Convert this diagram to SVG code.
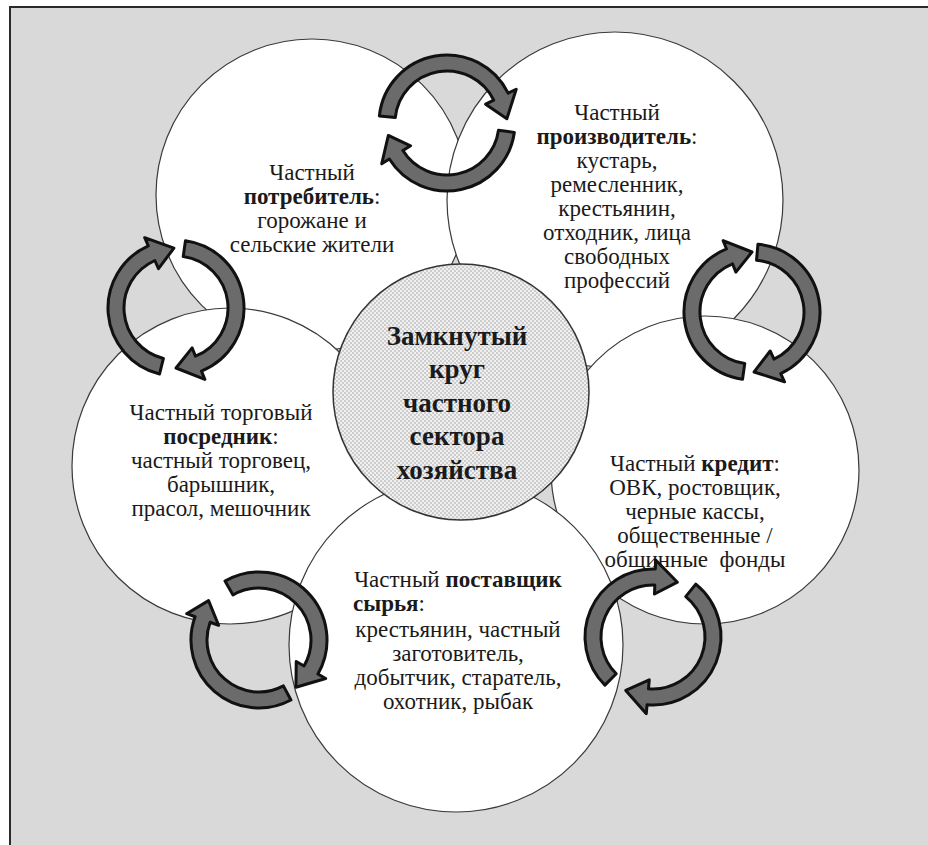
<svg xmlns="http://www.w3.org/2000/svg" width="928" height="845" viewBox="0 0 928 845">
<defs>
<pattern id="dots" width="4" height="4" patternUnits="userSpaceOnUse">
<rect width="4" height="4" fill="#f0f0f0"/>
<circle cx="1" cy="1" r="0.75" fill="#9a9a9a"/>
<circle cx="3" cy="3" r="0.75" fill="#9a9a9a"/>
</pattern>
</defs>
<style>
.c{fill:#ffffff;stroke:#3a3a3a;stroke-width:1.2}
.t{font-family:"Liberation Serif","Times New Roman",serif;font-size:23px;fill:#1a1a1a;text-anchor:middle}
.b{font-weight:bold}
.ct{font-family:"Liberation Serif","Times New Roman",serif;font-size:27px;font-weight:bold;fill:#1a1a1a;text-anchor:middle}
.ar{fill:#6b6b6b;stroke:#111111;stroke-width:3;stroke-linejoin:round}
</style>
<rect x="0" y="0" width="928" height="845" fill="#ffffff"/>
<rect x="10" y="7" width="940" height="860" fill="#d9d9d9" stroke="#2a2a2a" stroke-width="2"/>

<g id="consumer">
<circle class="c" cx="312" cy="195" r="156"/>
<text class="t" x="312" y="180">Частный</text>
<text class="t" x="312" y="204"><tspan class="b">потребитель</tspan>:</text>
<text class="t" x="312" y="228">горожане и</text>
<text class="t" x="312" y="252">сельские жители</text>
</g>

<g id="producer">
<circle class="c" cx="615" cy="200" r="168"/>
<text class="t" x="617" y="120">Частный</text>
<text class="t" x="617" y="144"><tspan class="b">производитель</tspan>:</text>
<text class="t" x="617" y="168">кустарь,</text>
<text class="t" x="617" y="192">ремесленник,</text>
<text class="t" x="617" y="216">крестьянин,</text>
<text class="t" x="617" y="240">отходник, лица</text>
<text class="t" x="617" y="264">свободных</text>
<text class="t" x="617" y="288">профессий</text>
</g>

<g id="credit">
<circle class="c" cx="705" cy="470" r="154"/>
<text class="t" x="695" y="471">Частный <tspan class="b">кредит</tspan>:</text>
<text class="t" x="695" y="495">ОВК, ростовщик,</text>
<text class="t" x="695" y="519">черные кассы,</text>
<text class="t" x="695" y="543">общественные /</text>
<text class="t" x="695" y="567">общинные&#160; фонды</text>
</g>

<g id="intermediary">
<circle class="c" cx="230" cy="466" r="158"/>
<text class="t" x="221" y="420">Частный торговый</text>
<text class="t" x="221" y="444"><tspan class="b">посредник</tspan>:</text>
<text class="t" x="221" y="468">частный торговец,</text>
<text class="t" x="221" y="492">барышник,</text>
<text class="t" x="221" y="516">прасол, мешочник</text>
</g>

<g id="supplier">
<circle class="c" cx="456" cy="645" r="167"/>
<text class="t" x="458" y="587">Частный <tspan class="b">поставщик</tspan></text>
<text class="t" x="353" y="611" style="text-anchor:start"><tspan class="b">сырья</tspan>:</text>
<text class="t" x="458" y="637">крестьянин, частный</text>
<text class="t" x="458" y="661">заготовитель,</text>
<text class="t" x="458" y="685">добытчик, старатель,</text>
<text class="t" x="458" y="709">охотник, рыбак</text>
</g>

<g id="center">
<circle cx="461" cy="392" r="128" fill="url(#dots)" stroke="#333333" stroke-width="1.5"/>
<text class="ct" x="457" y="345">Замкнутый</text>
<text class="ct" x="457" y="378">круг</text>
<text class="ct" x="457" y="412">частного</text>
<text class="ct" x="457" y="445">сектора</text>
<text class="ct" x="457" y="479">хозяйства</text>
</g>

<g id="connectors">
<path class="ar" d="M379.37,115.89 A68,68 0 0 1 508.12,93.19 L516.21,89.24 L506.86,118.81 L485.65,104.15 L493.74,100.20 A52,52 0 0 0 395.29,117.57 Z"/>
<path class="ar" d="M514.34,132.47 A68,68 0 0 1 389.34,159.03 L381.70,163.80 L388.31,135.47 L410.54,145.79 L402.90,150.55 A52,52 0 0 0 498.50,130.24 Z"/>
<path class="ar" d="M742.53,379.34 A68,68 0 0 1 726.53,248.95 L723.16,240.61 L752,252 L735.89,272.13 L732.52,263.79 A52,52 0 0 0 744.76,363.50 Z"/>
<path class="ar" d="M757.93,244.26 A68,68 0 0 1 780.74,373.63 L784.54,381.79 L754.09,371.96 L770.17,350.97 L773.98,359.13 A52,52 0 0 0 756.53,260.20 Z"/>
<path class="ar" d="M159.55,373.98 A68,68 0 0 1 148.34,245.88 L144.68,237.66 L173.91,248.04 L158.51,268.72 L154.85,260.50 A52,52 0 0 0 163.42,358.46 Z"/>
<path class="ar" d="M185.47,240.66 A68,68 0 0 1 201.47,371.05 L204.84,379.39 L176,368 L192.11,347.87 L195.48,356.21 A52,52 0 0 0 183.24,256.50 Z"/>
<path class="ar" d="M225,581.11 A68,68 0 0 1 317.89,674 L325.68,678.5 L295.94,687.28 L296.24,661.5 L304.03,666 A52,52 0 0 0 233,594.97 Z"/>
<path class="ar" d="M290.93,700.04 A68,68 0 0 1 195.10,616.74 L186.64,613.67 L208.57,600.60 L218.59,625.29 L210.14,622.22 A52,52 0 0 0 283.41,685.91 Z"/>
<path class="ar" d="M604.92,685.08 A68,68 0 0 1 655.37,569.04 L655.69,560.05 L677.40,582.19 L654.50,594.03 L654.81,585.03 A52,52 0 0 0 616.23,673.77 Z"/>
<path class="ar" d="M695.79,584.16 A68,68 0 0 1 647.07,704.74 L646.29,713.71 L625.76,690.46 L649.25,679.84 L648.47,688.80 A52,52 0 0 0 685.72,596.59 Z"/>
</g>
</svg>
